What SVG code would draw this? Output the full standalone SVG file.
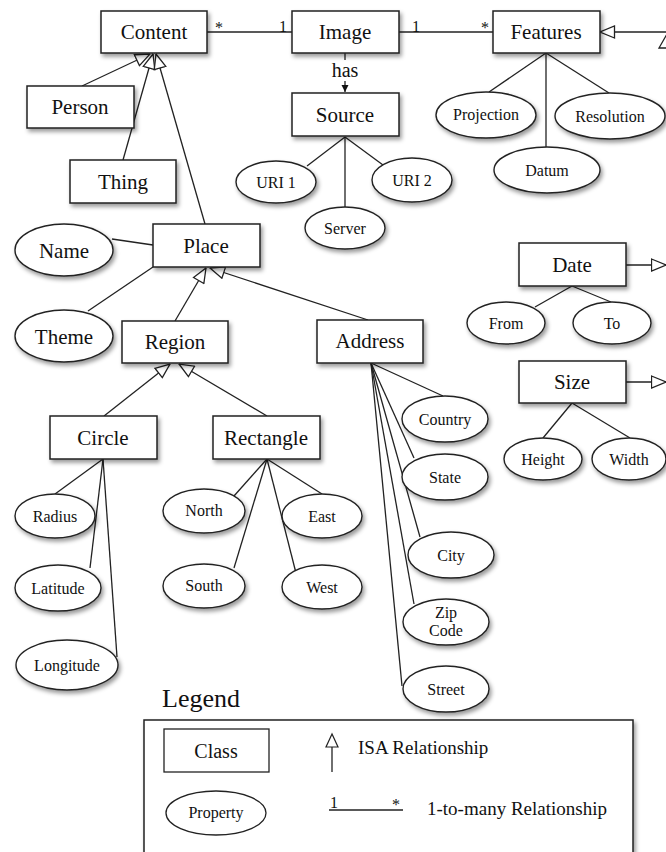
<svg xmlns="http://www.w3.org/2000/svg" width="666" height="852" viewBox="0 0 666 852" font-family="Liberation Serif, Times New Roman, Times, DejaVu Serif, serif">
<style>
text{font-family:"Liberation Serif","Times New Roman",Times,"DejaVu Serif",serif}
.b{fill:#fff;stroke:#222;stroke-width:1.5;filter:url(#sh)}
.e{fill:#fff;stroke:#222;stroke-width:1.4;filter:url(#sh)}
.t{font-size:21px;fill:#111;text-anchor:middle}
.p{font-size:16px;fill:#111;text-anchor:middle}
.m{font-size:16px;fill:#111;text-anchor:middle}
.l{fill:none;stroke:#222;stroke-width:1.3}
.isa{fill:none;stroke:#222;stroke-width:1.3;marker-end:url(#tri)}
.lg{font-size:19px;fill:#111}
</style>
<defs>
<filter id="sh" x="-20%" y="-20%" width="150%" height="160%">
<feDropShadow dx="2" dy="3" stdDeviation="2" flood-color="#000" flood-opacity="0.4"/>
</filter>
<marker id="tri" markerUnits="userSpaceOnUse" viewBox="0 0 16 14" markerWidth="16" markerHeight="14" refX="15.5" refY="7" orient="auto">
<path d="M1,1 L15.5,7 L1,13 Z" fill="#fff" stroke="#222" stroke-width="1.3"/>
</marker>
<marker id="fill" markerUnits="userSpaceOnUse" viewBox="0 0 8 8" markerWidth="8" markerHeight="8" refX="7" refY="4" orient="auto">
<path d="M0,0.5 L7,4 L0,7.5 Z" fill="#111"/>
</marker>
</defs>

<g id="connectors">
<line class="l" x1="207" y1="32" x2="292" y2="32"/>
<line class="l" x1="399" y1="32" x2="493" y2="32"/>
<line class="l" x1="345" y1="53" x2="345" y2="92" marker-end="url(#fill)"/>
<line class="isa" x1="82" y1="86" x2="150" y2="54"/>
<line class="isa" x1="123" y1="160" x2="153" y2="54"/>
<line class="isa" x1="205" y1="224" x2="156" y2="54"/>
<line class="isa" x1="175" y1="321" x2="206" y2="268"/>
<line class="isa" x1="368" y1="320" x2="210" y2="268"/>
<line class="isa" x1="104" y1="416" x2="170" y2="364"/>
<line class="isa" x1="267" y1="416" x2="179" y2="364"/>
<line class="isa" x1="666" y1="32" x2="600" y2="32"/>
<line class="isa" x1="626" y1="265" x2="666" y2="265"/>
<line class="isa" x1="626" y1="382" x2="666" y2="382"/>
<polygon points="667,34 659,48 675,48" fill="#fff" stroke="#222" stroke-width="1.3"/>
<line class="l" x1="345" y1="137" x2="307" y2="166"/>
<line class="l" x1="345" y1="137" x2="345" y2="207"/>
<line class="l" x1="345" y1="137" x2="383" y2="165"/>
<line class="l" x1="546" y1="53" x2="489" y2="92"/>
<line class="l" x1="546" y1="53" x2="546" y2="147"/>
<line class="l" x1="546" y1="53" x2="609" y2="93"/>
<line class="l" x1="112" y1="239" x2="153" y2="245"/>
<line class="l" x1="88" y1="311" x2="153" y2="267"/>
<line class="l" x1="103" y1="459" x2="55" y2="494"/>
<line class="l" x1="103" y1="459" x2="90" y2="568"/>
<line class="l" x1="103" y1="459" x2="117" y2="657"/>
<line class="l" x1="267" y1="459" x2="234" y2="496"/>
<line class="l" x1="267" y1="459" x2="234" y2="568"/>
<line class="l" x1="267" y1="459" x2="322" y2="494"/>
<line class="l" x1="267" y1="459" x2="296" y2="573"/>
<line class="l" x1="371" y1="363" x2="443" y2="396"/>
<line class="l" x1="371" y1="363" x2="414" y2="458"/>
<line class="l" x1="371" y1="363" x2="420" y2="537"/>
<line class="l" x1="371" y1="363" x2="414" y2="604"/>
<line class="l" x1="371" y1="363" x2="402" y2="686"/>
<line class="l" x1="572" y1="286" x2="535" y2="307"/>
<line class="l" x1="572" y1="286" x2="611" y2="302"/>
<line class="l" x1="572" y1="403" x2="543" y2="438"/>
<line class="l" x1="572" y1="403" x2="630" y2="438"/>
<text class="m" x="219" y="33">*</text>
<text class="m" x="283" y="32">1</text>
<text class="m" x="416" y="32">1</text>
<text class="m" x="485" y="33">*</text>
<rect x="325" y="60" width="41" height="21" fill="#fff"/>
<text class="t" x="345" y="77" style="font-size:20px">has</text>
</g>

<g id="content"><rect class="b" x="101" y="11" width="106" height="42"/><text class="t" x="154" y="39">Content</text></g>
<g id="image"><rect class="b" x="292" y="11" width="107" height="42"/><text class="t" x="345" y="39">Image</text></g>
<g id="features"><rect class="b" x="493" y="11" width="107" height="42"/><text class="t" x="546" y="39">Features</text></g>
<g id="source"><rect class="b" x="292" y="93" width="107" height="43"/><text class="t" x="345" y="122">Source</text></g>
<g id="person"><rect class="b" x="27" y="86" width="107" height="42"/><text class="t" x="80" y="114">Person</text></g>
<g id="thing"><rect class="b" x="70" y="160" width="106" height="43"/><text class="t" x="123" y="189">Thing</text></g>
<g id="place"><rect class="b" x="153" y="224" width="107" height="43"/><text class="t" x="206" y="253">Place</text></g>
<g id="region"><rect class="b" x="122" y="321" width="106" height="42"/><text class="t" x="175" y="349">Region</text></g>
<g id="address"><rect class="b" x="317" y="320" width="106" height="43"/><text class="t" x="370" y="348">Address</text></g>
<g id="circle"><rect class="b" x="50" y="416" width="107" height="43"/><text class="t" x="103" y="445">Circle</text></g>
<g id="rectangle"><rect class="b" x="213" y="416" width="107" height="43"/><text class="t" x="266" y="445">Rectangle</text></g>
<g id="date"><rect class="b" x="519" y="243" width="107" height="43"/><text class="t" x="572" y="272">Date</text></g>
<g id="size"><rect class="b" x="519" y="361" width="107" height="42"/><text class="t" x="572" y="389">Size</text></g>

<g id="uri1"><ellipse class="e" cx="276" cy="182" rx="40" ry="21"/><text class="p" x="276" y="188">URI 1</text></g>
<g id="uri2"><ellipse class="e" cx="412" cy="180" rx="40" ry="22"/><text class="p" x="412" y="186">URI 2</text></g>
<g id="server"><ellipse class="e" cx="345" cy="228" rx="40" ry="21"/><text class="p" x="345" y="234">Server</text></g>
<g id="projection"><ellipse class="e" cx="486" cy="115" rx="50" ry="23"/><text class="p" x="486" y="120">Projection</text></g>
<g id="resolution"><ellipse class="e" cx="610" cy="116" rx="55" ry="23"/><text class="p" x="610" y="122">Resolution</text></g>
<g id="datum"><ellipse class="e" cx="547" cy="170" rx="53" ry="23"/><text class="p" x="547" y="176">Datum</text></g>
<g id="name"><ellipse class="e" cx="64" cy="250" rx="49" ry="26"/><text class="t" x="64" y="258">Name</text></g>
<g id="theme"><ellipse class="e" cx="64" cy="336" rx="49" ry="26"/><text class="t" x="64" y="344">Theme</text></g>
<g id="radius"><ellipse class="e" cx="55" cy="516" rx="40" ry="22"/><text class="p" x="55" y="522">Radius</text></g>
<g id="latitude"><ellipse class="e" cx="58" cy="588" rx="43" ry="23"/><text class="p" x="58" y="594">Latitude</text></g>
<g id="longitude"><ellipse class="e" cx="67" cy="665" rx="51" ry="25"/><text class="p" x="67" y="671">Longitude</text></g>
<g id="north"><ellipse class="e" cx="204" cy="511" rx="41" ry="22"/><text class="p" x="204" y="516">North</text></g>
<g id="south"><ellipse class="e" cx="204" cy="586" rx="41" ry="22"/><text class="p" x="204" y="591">South</text></g>
<g id="east"><ellipse class="e" cx="322" cy="516" rx="40" ry="22"/><text class="p" x="322" y="522">East</text></g>
<g id="west"><ellipse class="e" cx="322" cy="587" rx="40" ry="22"/><text class="p" x="322" y="593">West</text></g>
<g id="country"><ellipse class="e" cx="445" cy="419" rx="43" ry="23"/><text class="p" x="445" y="425">Country</text></g>
<g id="state"><ellipse class="e" cx="445" cy="477" rx="43" ry="23"/><text class="p" x="445" y="483">State</text></g>
<g id="city"><ellipse class="e" cx="451" cy="555" rx="43" ry="23"/><text class="p" x="451" y="561">City</text></g>
<g id="zipcode"><ellipse class="e" cx="446" cy="622" rx="43" ry="23"/><text class="p" x="446" y="618">Zip</text><text class="p" x="446" y="636">Code</text></g>
<g id="street"><ellipse class="e" cx="446" cy="689" rx="43" ry="23"/><text class="p" x="446" y="695">Street</text></g>
<g id="from"><ellipse class="e" cx="506" cy="323" rx="39" ry="21"/><text class="p" x="506" y="329">From</text></g>
<g id="to"><ellipse class="e" cx="612" cy="323" rx="39" ry="21"/><text class="p" x="612" y="329">To</text></g>
<g id="height"><ellipse class="e" cx="543" cy="459" rx="39" ry="21"/><text class="p" x="543" y="465">Height</text></g>
<g id="width"><ellipse class="e" cx="629" cy="459" rx="37" ry="21"/><text class="p" x="629" y="465">Width</text></g>

<g id="legend">
<text x="162" y="707" style="font-size:26px;fill:#111">Legend</text>
<rect class="b" x="144" y="720" width="489" height="145"/>
<rect x="164" y="729" width="105" height="43" fill="#fff" stroke="#222" stroke-width="1.3"/>
<text class="t" x="216" y="758" style="font-size:20px">Class</text>
<ellipse cx="216" cy="813" rx="50" ry="22" fill="#fff" stroke="#222" stroke-width="1.3"/>
<text class="p" x="216" y="818">Property</text>
<line class="l" x1="332" y1="747" x2="332" y2="772"/>
<polygon points="332,734 326,747 338,747" fill="#fff" stroke="#222" stroke-width="1.2"/>
<text class="lg" x="358" y="754">ISA Relationship</text>
<line class="l" x1="329" y1="810" x2="403" y2="810"/>
<text class="m" x="334" y="808">1</text>
<text class="m" x="396" y="810">*</text>
<text class="lg" x="427" y="815">1-to-many Relationship</text>
</g>
</svg>
